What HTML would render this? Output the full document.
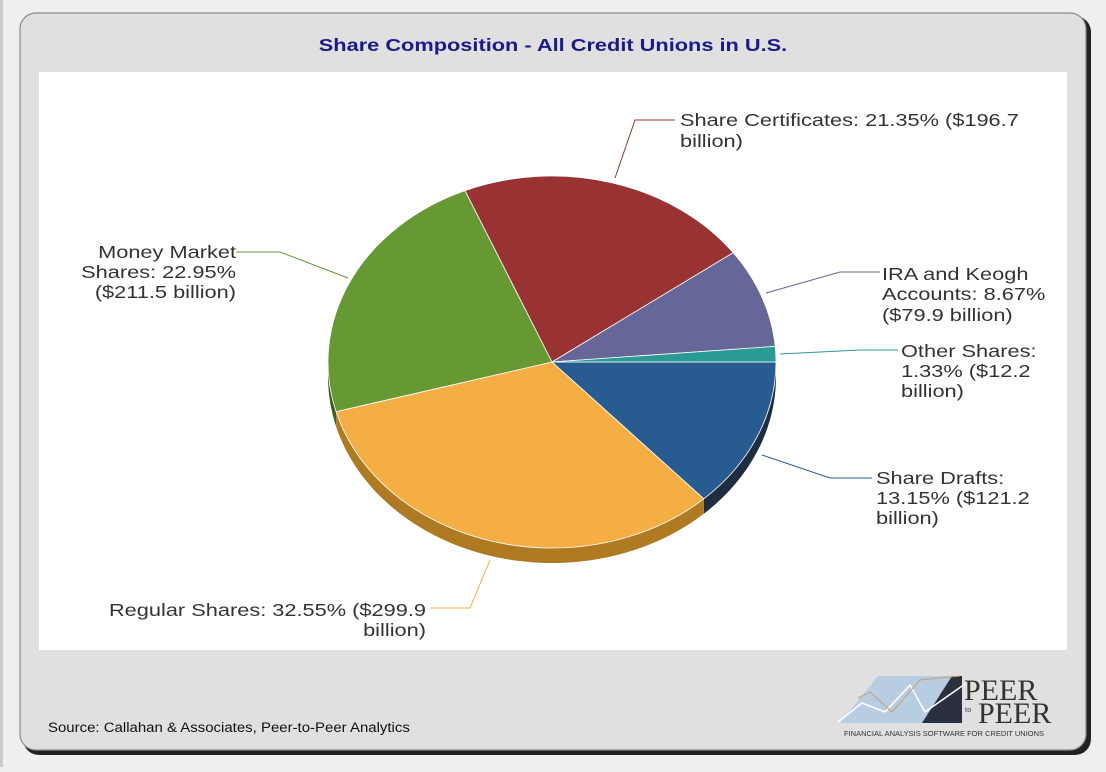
<!DOCTYPE html>
<html><head><style>
body{margin:0;width:1106px;height:767px;background:#efefef;overflow:hidden;font-family:"Liberation Sans",Arial,sans-serif}
</style></head><body>
<svg width="1106" height="767" xmlns="http://www.w3.org/2000/svg" font-family="Liberation Sans, Arial, sans-serif">
<rect x="0" y="0" width="3" height="767" fill="#c8ccd0"/>
<rect x="23" y="16" width="1068" height="739" rx="16" fill="#222"/>
<rect x="20" y="13" width="1066" height="737" rx="16" fill="#e0e0e0" stroke="#8a8a8a" stroke-width="1.2"/>
<rect x="39" y="72" width="1028" height="578" fill="#fff"/>
<text transform="translate(553,51) scale(1.21,1)" text-anchor="middle" font-size="18" font-weight="bold" fill="#1a1a8c">Share Composition - All Credit Unions in U.S.</text>
<path d="M776,362 A224,186 0 0 1 703.8,498.8 L703.8,513.8 A224,186 0 0 0 776,377 Z" fill="#1e2d40"/>
<path d="M703.8,498.8 A224,186 0 0 1 336.1,411.6 L336.1,426.6 A224,186 0 0 0 703.8,513.8 Z" fill="#b07a22"/>
<path d="M336.1,411.6 A224,186 0 0 1 328,362 L328,377 A224,186 0 0 0 336.1,426.6 Z" fill="#3f5f22"/>
<g stroke="#fff" stroke-width="0.8">
<path d="M552,362 L776,362 A224,186 0 0 1 703.8,498.8 Z" fill="#285b8f"/>
<path d="M552,362 L703.8,498.8 A224,186 0 0 1 336.1,411.6 Z" fill="#f5ae43"/>
<path d="M552,362 L336.1,411.6 A224,186 0 0 1 465,190.6 Z" fill="#669933"/>
<path d="M552,362 L465,190.6 A224,186 0 0 1 733.2,252.7 Z" fill="#993333"/>
<path d="M552,362 L733.2,252.7 A224,186 0 0 1 775.2,346.4 Z" fill="#666699"/>
<path d="M552,362 L775.2,346.4 A224,186 0 0 1 776,362 Z" fill="#2a9a94"/>
</g>
<g fill="none" stroke-width="1">
<polyline points="615,178 635,120 675,120" stroke="#993333"/>
<polyline points="766,293 840,272 880,272" stroke="#666699"/>
<polyline points="780,354 860,350 898,350" stroke="#2a9a94"/>
<polyline points="762,455 830,478 872,478" stroke="#285b8f"/>
<polyline points="490,560 470,608 430,608" stroke="#f5ae43"/>
<polyline points="348,278 280,252 236,252" stroke="#669933"/>
</g>
<g font-size="18" fill="#333">
<text transform="translate(680,126) scale(1.21,1)">Share Certificates: 21.35% ($196.7</text>
<text transform="translate(680,147) scale(1.21,1)">billion)</text>
<text transform="translate(882,280) scale(1.21,1)">IRA and Keogh</text>
<text transform="translate(882,300) scale(1.21,1)">Accounts: 8.67%</text>
<text transform="translate(882,321) scale(1.21,1)">($79.9 billion)</text>
<text transform="translate(901,357) scale(1.21,1)">Other Shares:</text>
<text transform="translate(901,377) scale(1.21,1)">1.33% ($12.2</text>
<text transform="translate(901,397) scale(1.21,1)">billion)</text>
<text transform="translate(876,484) scale(1.21,1)">Share Drafts:</text>
<text transform="translate(876,504) scale(1.21,1)">13.15% ($121.2</text>
<text transform="translate(876,524) scale(1.21,1)">billion)</text>
<text transform="translate(426,616) scale(1.21,1)" text-anchor="end">Regular Shares: 32.55% ($299.9</text>
<text transform="translate(426,636) scale(1.21,1)" text-anchor="end">billion)</text>
<text transform="translate(236,258) scale(1.21,1)" text-anchor="end">Money Market</text>
<text transform="translate(236,278) scale(1.21,1)" text-anchor="end">Shares: 22.95%</text>
<text transform="translate(236,298) scale(1.21,1)" text-anchor="end">($211.5 billion)</text>
</g>
<text transform="translate(48,732) scale(1.07,1)" font-size="14" fill="#111">Source: Callahan &amp; Associates, Peer-to-Peer Analytics</text>
<polygon points="840,723 878,676 960,676 922,723" fill="#b8cde2"/>
<polygon points="922,723 952,676 962,676 962,723" fill="#2a3040"/>
<polyline points="838,722 862,703 885,712 910,685 925,712 965,684" fill="none" stroke="#fff" stroke-width="1.5"/>
<polyline points="858,698 870,692 892,712 920,680 960,676" fill="none" stroke="#c9a070" stroke-width="1"/>
<text x="964" y="700" font-family="Liberation Serif, serif" font-size="30" fill="#333">PEER</text>
<text x="965" y="712" font-family="Liberation Serif, serif" font-size="8" fill="#333">to</text>
<text x="978" y="723" font-family="Liberation Serif, serif" font-size="30" fill="#333">PEER</text>
<text x="844" y="736" font-size="7.5" fill="#333">FINANCIAL ANALYSIS SOFTWARE FOR CREDIT UNIONS</text>
</svg>
</body></html>
